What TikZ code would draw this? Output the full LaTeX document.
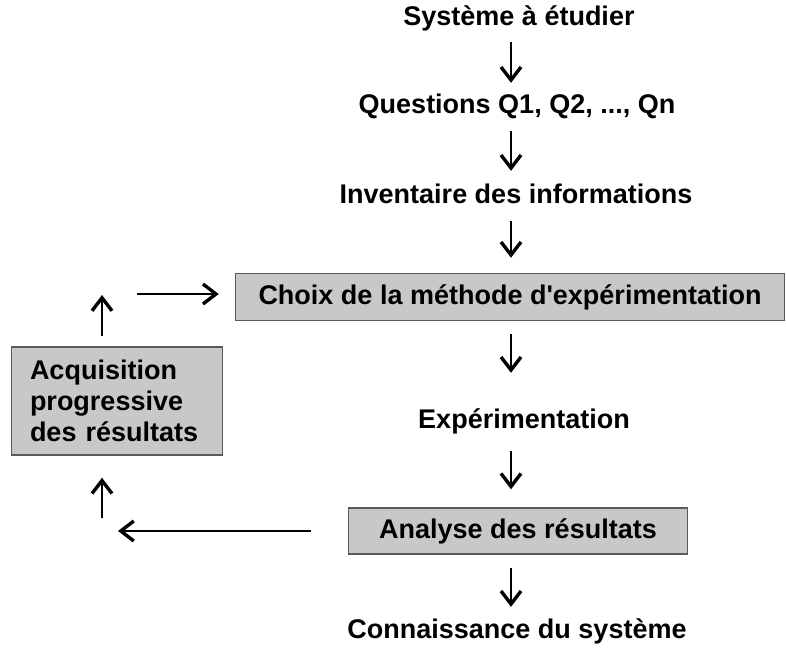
\documentclass[tikz,border=0pt]{standalone}
\usepackage{fontspec}
\setmainfont{Liberation Sans}
\usepackage{xcolor}
\usetikzlibrary{arrows.meta}

\definecolor{boxfill}{HTML}{C8C8C8}
\definecolor{boxline}{HTML}{5A5A5A}

\begin{document}
\begin{tikzpicture}[x=1pt, y=-1pt,
        every node/.style={font=\bfseries\fontsize{27}{31}\selectfont, inner sep=0pt, text height=19pt, text depth=5pt},
        step box/.style={draw=boxline, line width=1.5pt, fill=boxfill},
        >={Straight Barb[length=13pt, width=20pt, line width=3.4pt]},
        every edge/.style={draw, line width=1.5pt, shorten <=12pt, shorten >=11pt}]
        \useasboundingbox (0,0) rectangle (786,648);

        \node (sys)   at (519,18)  {Système à étudier};
        \node (quest) at (517,106) {Questions Q1, Q2, ..., Qn};
        \node (inv)   at (516,196) {Inventaire des informations};
        \node[step box, minimum width=549pt, minimum height=47pt] (choix) at (510,297) {Choix de la méthode d\textquotesingle expérimentation};
        \node (exp)   at (524,421) {Expérimentation};
        \node[step box, minimum width=339pt, minimum height=46pt] (ana) at (518,531) {Analyse des résultats};
        \node (conn)  at (517,631) {Connaissance du système};
        \node[step box, minimum width=211pt, minimum height=108pt, align=left, text height=, text depth=, font=\bfseries\fontsize{27}{31}\selectfont, text width=174pt] (acq) at (117,401) {Acquisition\\progressive\\des résultats};

        \coordinate (col) at (511,0);
        \coordinate (lft) at (102,0);
        \coordinate (up1) at (102,295);
        \coordinate (rt1) at (137,294);
        \coordinate (lf1) at (118,531);
        \coordinate (up2) at (102,518);

        \path[->]
        (sys.south -| col) edge (quest.north -| col)
        (quest.south -| col) edge[shorten <=13pt, shorten >=13pt] (inv.north -| col)
        (inv.south -| col) edge[shorten <=13pt, shorten >=15pt] (choix.north -| col)
        (choix.south -| col) edge[shorten <=13pt, shorten >=36pt] (exp.north -| col)
        (exp.south -| col) edge[shorten <=18pt, shorten >=18pt] (ana.north -| col)
        (ana.south -| col) edge[shorten <=13pt, shorten >=12pt] (conn.north -| col)
        (acq.north -| lft) edge[shorten <=10pt, shorten >=0pt] (up1)
        (rt1) edge[shorten <=0pt, shorten >=16pt] (choix.west |- rt1)
        (ana.west) edge[shorten <=37pt, shorten >=0pt] (lf1)
        (up2) edge[shorten <=0pt, shorten >=22pt] (acq.south -| lft);
\end{tikzpicture}
\end{document}
